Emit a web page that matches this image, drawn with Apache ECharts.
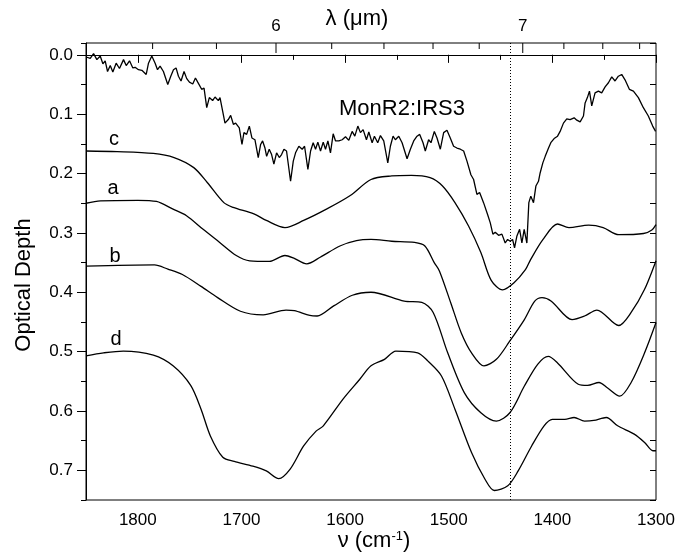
<!DOCTYPE html>
<html>
<head>
<meta charset="utf-8">
<script src="https://cdn.jsdelivr.net/npm/echarts@6/dist/echarts.min.js"></script>
<style>
  html, body { margin: 0; padding: 0; background: #fff; }
  #chart { width: 690px; height: 554px; }
</style>
</head>
<body>
<div id="chart"></div>
<script>
// wavenumber (cm-1), optical depth
const irs3 = [
  [1849.1,0.004],[1845.9,0.006],[1842.7,-0.002],[1839.5,0.008],[1836.3,0.002],[1833.7,0.015],[1831.5,0.010],[1829.2,0.028],
  [1826.6,0.018],[1824.1,0.029],[1820.9,0.014],[1817.7,0.023],[1813.8,0.008],[1811.2,0.018],[1808.0,0.010],[1804.8,0.022],
  [1802.6,0.021],[1799.4,0.025],[1796.1,0.026],[1791.9,0.033],[1789.7,0.014],[1786.5,0.002],[1783.3,0.014],[1781.0,0.025],
  [1778.5,0.019],[1775.3,0.028],[1771.1,0.050],[1768.2,0.036],[1765.6,0.025],[1763.1,0.022],[1760.8,0.036],[1758.3,0.044],
  [1755.4,0.028],[1752.8,0.040],[1750.2,0.046],[1747.0,0.049],[1744.4,0.039],[1742.2,0.046],[1738.4,0.058],[1736.1,0.056],
  [1733.5,0.089],[1731.0,0.072],[1727.8,0.077],[1725.5,0.071],[1722.3,0.077],[1720.7,0.072],[1718.1,0.095],[1715.9,0.115],
  [1712.7,0.109],[1710.4,0.102],[1707.8,0.117],[1705.6,0.115],[1702.1,0.123],[1699.5,0.151],[1697.6,0.131],[1695.0,0.134],
  [1692.4,0.120],[1689.9,0.140],[1687.0,0.143],[1683.8,0.173],[1681.5,0.151],[1679.6,0.145],[1677.3,0.157],[1675.7,0.171],
  [1673.2,0.159],[1670.9,0.168],[1668.7,0.184],[1666.1,0.165],[1663.5,0.173],[1661.3,0.168],[1659.0,0.159],[1656.5,0.162],
  [1652.6,0.213],[1650.0,0.179],[1647.8,0.165],[1644.6,0.154],[1641.4,0.159],[1639.1,0.154],[1635.9,0.193],[1633.3,0.162],
  [1630.8,0.148],[1628.5,0.159],[1626.3,0.147],[1623.7,0.162],[1621.1,0.147],[1618.9,0.159],[1616.6,0.145],[1614.1,0.165],
  [1611.5,0.133],[1609.2,0.145],[1606.0,0.145],[1602.8,0.143],[1599.6,0.138],[1596.4,0.144],[1593.2,0.129],[1590.6,0.137],
  [1587.7,0.120],[1585.2,0.131],[1582.6,0.126],[1579.4,0.143],[1577.1,0.130],[1573.9,0.148],[1571.7,0.137],[1568.5,0.148],
  [1565.9,0.136],[1562.7,0.145],[1558.8,0.182],[1556.3,0.154],[1553.7,0.137],[1551.5,0.143],[1548.2,0.137],[1545.0,0.148],
  [1540.2,0.175],[1537.0,0.159],[1533.8,0.145],[1530.6,0.137],[1528.0,0.134],[1524.8,0.148],[1522.6,0.162],[1519.4,0.143],
  [1517.1,0.148],[1513.9,0.129],[1511.3,0.140],[1508.1,0.159],[1504.9,0.131],[1501.7,0.127],[1498.5,0.140],[1495.3,0.154],
  [1492.1,0.157],[1488.8,0.159],[1485.6,0.162],[1482.4,0.179],[1478.6,0.202],[1476.0,0.210],[1472.8,0.235],[1470.2,0.232],
  [1466.4,0.249],[1462.5,0.269],[1459.9,0.283],[1457.4,0.302],[1455.1,0.299],[1451.9,0.304],[1448.7,0.302],[1447.1,0.305],
  [1445.5,0.317],[1443.2,0.311],[1440.7,0.314],[1438.4,0.311],[1436.5,0.325],[1434.2,0.305],[1431.6,0.294],[1429.4,0.317],
  [1427.2,0.294],[1424.6,0.317],[1422.7,0.249],[1420.8,0.238],[1418.2,0.249],[1415.9,0.221],[1413.4,0.213],[1411.8,0.199],
  [1409.2,0.182],[1406.9,0.171],[1403.7,0.157],[1401.5,0.148],[1398.3,0.141],[1395.0,0.137],[1392.5,0.129],[1389.3,0.115],
  [1386.1,0.108],[1382.9,0.109],[1379.0,0.106],[1376.4,0.110],[1373.2,0.113],[1370.0,0.103],[1368.4,0.081],[1366.2,0.072],
  [1364.2,0.061],[1362.0,0.086],[1358.8,0.064],[1355.6,0.061],[1352.4,0.064],[1349.1,0.054],[1345.9,0.047],[1342.7,0.037],
  [1339.5,0.044],[1336.3,0.036],[1333.1,0.033],[1329.9,0.042],[1325.7,0.058],[1321.8,0.061],[1317.0,0.072],[1312.2,0.089],
  [1307.4,0.103],[1303.2,0.120],[1300.4,0.129]
];

const curveC = [
  [1850,0.162],[1820,0.163],[1785,0.166],[1765,0.173],[1746,0.190],[1733,0.215],[1717,0.249],[1708,0.257],
  [1688,0.268],[1676,0.279],[1658,0.291],[1640,0.279],[1618,0.260],[1595,0.237],[1575,0.210],[1555,0.204],
  [1536,0.203],[1518,0.207],[1506,0.221],[1494,0.249],[1481,0.288],[1469,0.333],[1459,0.380],[1448,0.396],
  [1437,0.384],[1426,0.362],[1421,0.345],[1409,0.311],[1395,0.285],[1384,0.291],[1365,0.287],[1351,0.291],
  [1336,0.303],[1312,0.301],[1304,0.295],[1300,0.286]
];

const curveA = [
  [1850,0.250],[1836,0.246],[1800,0.245],[1782,0.247],[1766,0.260],[1753,0.271],[1737,0.294],[1721,0.316],
  [1705,0.338],[1692,0.347],[1673,0.348],[1658,0.338],[1650,0.342],[1637,0.352],[1624,0.341],[1605,0.322],
  [1589,0.313],[1575,0.311],[1555,0.314],[1533,0.316],[1523,0.322],[1514,0.350],[1509,0.364],[1498,0.418],
  [1488,0.468],[1478,0.502],[1466,0.524],[1454,0.513],[1441,0.482],[1427,0.446],[1417,0.415],[1410,0.409],
  [1401,0.415],[1381,0.446],[1369,0.440],[1357,0.430],[1336,0.456],[1324,0.434],[1311,0.395],[1300,0.347]
];

const curveB = [
  [1850,0.356],[1784,0.354],[1771,0.361],[1757,0.370],[1739,0.390],[1723,0.409],[1701,0.432],[1679,0.438],
  [1657,0.430],[1649,0.431],[1634,0.439],[1627,0.440],[1611,0.423],[1593,0.405],[1575,0.400],[1543,0.415],
  [1526,0.417],[1515,0.434],[1501,0.502],[1485,0.569],[1469,0.603],[1454,0.617],[1441,0.603],[1427,0.558],
  [1414,0.521],[1404,0.508],[1395,0.519],[1375,0.555],[1366,0.557],[1355,0.552],[1347,0.561],[1335,0.575],
  [1324,0.552],[1311,0.502],[1300,0.451]
];

const curveD = [
  [1850,0.507],[1833,0.502],[1814,0.499],[1785,0.506],[1766,0.524],[1749,0.557],[1739,0.597],[1730,0.642],
  [1718,0.678],[1707,0.685],[1689,0.693],[1676,0.701],[1664,0.714],[1653,0.698],[1640,0.659],[1628,0.634],
  [1621,0.625],[1602,0.580],[1586,0.547],[1575,0.524],[1562,0.513],[1551,0.499],[1530,0.502],[1520,0.516],
  [1507,0.541],[1494,0.597],[1478,0.670],[1465,0.715],[1456,0.734],[1443,0.726],[1433,0.701],[1420,0.659],
  [1408,0.625],[1400,0.614],[1388,0.614],[1379,0.611],[1369,0.617],[1360,0.616],[1348,0.611],[1337,0.625],
  [1321,0.639],[1311,0.653],[1303,0.667],[1300,0.667]
];

// top axis ticks in wavelength (um)
const lambdaTicks = [5.6, 5.8, 6.0, 6.2, 6.4, 6.6, 6.8, 7.0, 7.2, 7.4, 7.6];
const markNu = 1441;

const font = '"Liberation Sans", Arial, sans-serif';
const black = '#000';

function curve(name, data, smooth) {
  return {
    name: name, type: 'line', data: data, smooth: smooth,
    showSymbol: false, symbol: 'none', silent: true,
    lineStyle: { color: black, width: 1.3 },
    xAxisIndex: 0, yAxisIndex: 0
  };
}

function label(text, x, y, size) {
  return { type: 'text', x: x, y: y,
    style: { text: text, align: 'center', verticalAlign: 'middle', fontSize: size, fontFamily: font, fill: black } };
}

const ySpan = { type: 'value', min: -0.02, max: 0.75, inverse: true, splitLine: { show: false } };
const xSpan = { type: 'value', min: 1300, max: 1850, inverse: true, splitLine: { show: false } };

const chart = echarts.init(document.getElementById('chart'));
chart.setOption({
  animation: false,
  grid: { left: 86, right: 34, top: 43, bottom: 54, show: true, borderColor: black, borderWidth: 1 },
  xAxis: [
    Object.assign({}, xSpan, {
      interval: 100, position: 'bottom',
      axisLine: { lineStyle: { color: black, width: 1 } },
      axisTick: { length: 8, lineStyle: { color: black } },
      axisLabel: { fontSize: 17, color: black, fontFamily: font, margin: 12, showMaxLabel: false,
                   formatter: v => String(v) }
    }),
    Object.assign({}, xSpan, {
      interval: 50, position: 'bottom',
      axisLine: { show: false },
      axisTick: { length: 5, lineStyle: { color: black } },
      axisLabel: { show: false }
    })
  ],
  yAxis: [
    Object.assign({}, ySpan, {
      splitNumber: 8, position: 'left',
      axisLine: { lineStyle: { color: black, width: 1 } },
      axisTick: { length: 9, lineStyle: { color: black } },
      axisLabel: {
        fontSize: 17, color: black, fontFamily: font, margin: 13,
        showMinLabel: false, showMaxLabel: false,
        formatter: v => v.toFixed(1)
      }
    }),
    Object.assign({}, ySpan, {
      splitNumber: 16, position: 'left',
      axisLine: { show: false },
      axisTick: { length: 5, lineStyle: { color: black } },
      axisLabel: { show: false }
    }),
    Object.assign({}, ySpan, {
      splitNumber: 16, position: 'right',
      axisLine: { show: false },
      axisTick: { inside: true, length: 6, lineStyle: { color: black } },
      axisLabel: { show: false }
    })
  ],
  series: [
    Object.assign(curve('MonR2:IRS3', irs3, false), {
      markLine: {
        silent: true, symbol: 'none', label: { show: false },
        lineStyle: { color: black, type: [1, 2], width: 1 },
        data: [{ xAxis: markNu }]
      }
    }),
    curve('c', curveC, 0.3),
    curve('a', curveA, 0.3),
    curve('b', curveB, 0.3),
    curve('d', curveD, 0.3),
    {
      type: 'custom', xAxisIndex: 0, yAxisIndex: 0, clip: false, silent: true,
      data: lambdaTicks.map(l => [1e4 / l, l]),
      renderItem: function (params, api) {
        const x = api.coord([api.value(0), 0])[0];
        const top = params.coordSys.y;
        const lam = api.value(1);
        const major = Math.abs(lam - Math.round(lam)) < 1e-6;
        const children = [{
          type: 'line',
          shape: { x1: x, y1: top, x2: x, y2: top + (major ? 10 : 6) },
          style: { stroke: black, lineWidth: 1 }
        }];
        if (major) {
          children.push({
            type: 'text',
            style: { text: String(Math.round(lam)), x: x, y: top - 17, align: 'center', verticalAlign: 'middle',
                     fontSize: 17, fontFamily: font, fill: black }
          });
        }
        return { type: 'group', children: children };
      }
    }
  ],
  graphic: [
    label('λ (μm)', 357, 19, 22),
    Object.assign(label('Optical Depth', 24, 285, 22), { rotation: Math.PI / 2 }),
    { type: 'text', x: 374, y: 541,
      style: { text: '{a|ν (cm}{s|-1}{a|)}', align: 'center', verticalAlign: 'middle', fill: black,
               rich: { a: { fontSize: 22, fontFamily: font }, s: { fontSize: 13, fontFamily: font, verticalAlign: 'top' } } } },
    { type: 'text', x: 339, y: 109,
      style: { text: 'MonR2:IRS3', align: 'left', verticalAlign: 'middle', fontSize: 22, fontFamily: font, fill: black } },
    label('c', 114, 139, 20),
    label('a', 113, 188, 20),
    label('b', 115, 256, 20),
    label('d', 116, 339, 20)
  ]
});
</script>
</body>
</html>
